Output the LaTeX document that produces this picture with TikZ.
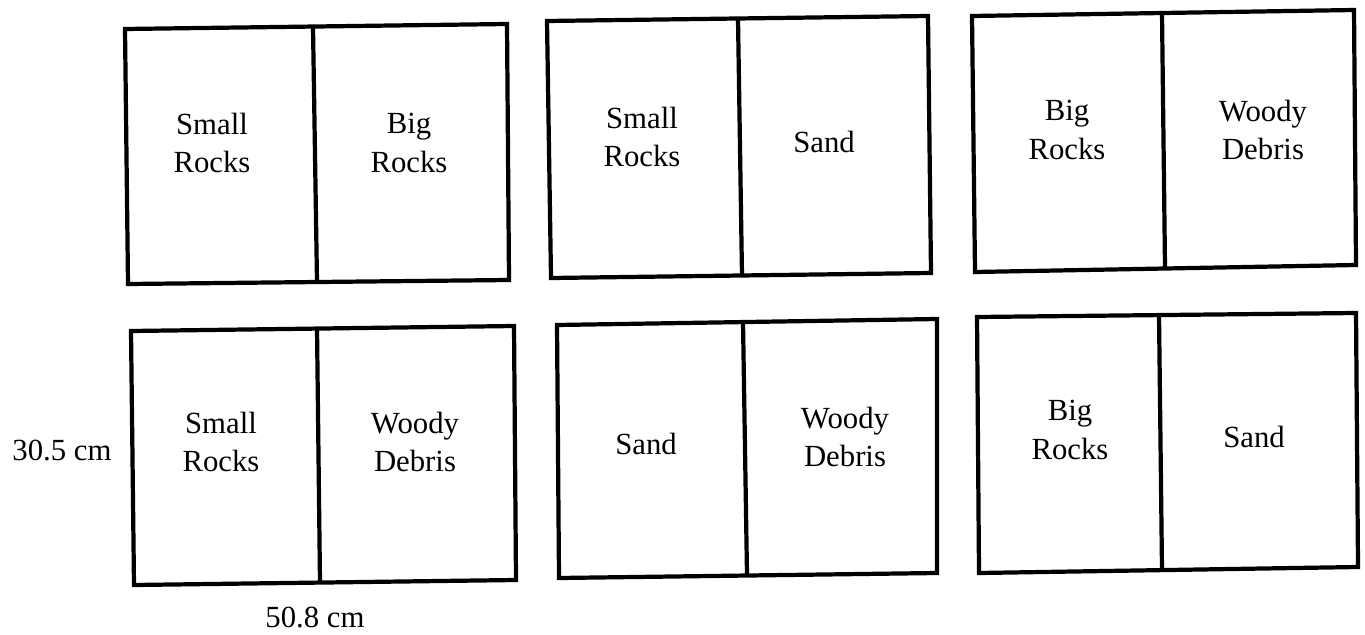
\documentclass[tikz,border=0pt]{standalone}
\usepackage{fontspec}
\setmainfont{Liberation Serif}

\begin{document}
\begin{tikzpicture}[x=0.02cm, y=-0.02cm,
  tank/.style={draw, line width=2.4pt, line join=miter},
  wall/.style={draw, line width=2.4pt},
  zone/.style={align=center, font=\rmfamily\fontsize{17.5}{22}\selectfont},
  dim/.style={font=\rmfamily\fontsize{17.5}{22}\selectfont}
]
  \useasboundingbox (0,0) rectangle (1365,635);

  % top row
  \draw[tank] (125,29) -- (507,24) -- (509,280) -- (128,284) -- cycle;
  \draw[wall] (313,27) -- (317,282);
  \node[zone] (t1a) at (212,143)  {Small\\Rocks};
  \node[zone] (t1b) at (409,143)  {Big\\Rocks};

  \draw[tank] (547,21) -- (928,16) -- (931,273) -- (551,278) -- cycle;
  \draw[wall] (738,19) -- (742,276);
  \node[zone] (t2a) at (642,137)  {Small\\Rocks};
  \node[zone] (t2b) at (824,142)  {Sand};

  \draw[tank] (972,16) -- (1354,10) -- (1356,265) -- (975,272) -- cycle;
  \draw[wall] (1162,13) -- (1165,268);
  \node[zone] (t3a) at (1067,130) {Big\\Rocks};
  \node[zone] (t3b) at (1263,130) {Woody\\Debris};

  % bottom row
  \draw[tank] (131,331) -- (514,326) -- (516,580) -- (134,585) -- cycle;
  \draw[wall] (317,328) -- (320,583);
  \node[zone] (t4a) at (221,442)  {Small\\Rocks};
  \node[zone] (t4b) at (415,442)  {Woody\\Debris};

  \draw[tank] (557,325) -- (937,319) -- (937,573) -- (559,578) -- cycle;
  \draw[wall] (743,322) -- (747,575);
  \node[zone] (t5a) at (646,444)  {Sand};
  \node[zone] (t5b) at (845,437)  {Woody\\Debris};

  \draw[tank] (977,317) -- (1356,313) -- (1358,567) -- (979,573) -- cycle;
  \draw[wall] (1159,315) -- (1162,570);
  \node[zone] (t6a) at (1070,430) {Big\\Rocks};
  \node[zone] (t6b) at (1254,437) {Sand};

  % dimensions
  \node[dim] (h) at (62,450)  {30.5 cm};
  \node[dim] (w) at (315,617) {50.8 cm};
\end{tikzpicture}
\end{document}
